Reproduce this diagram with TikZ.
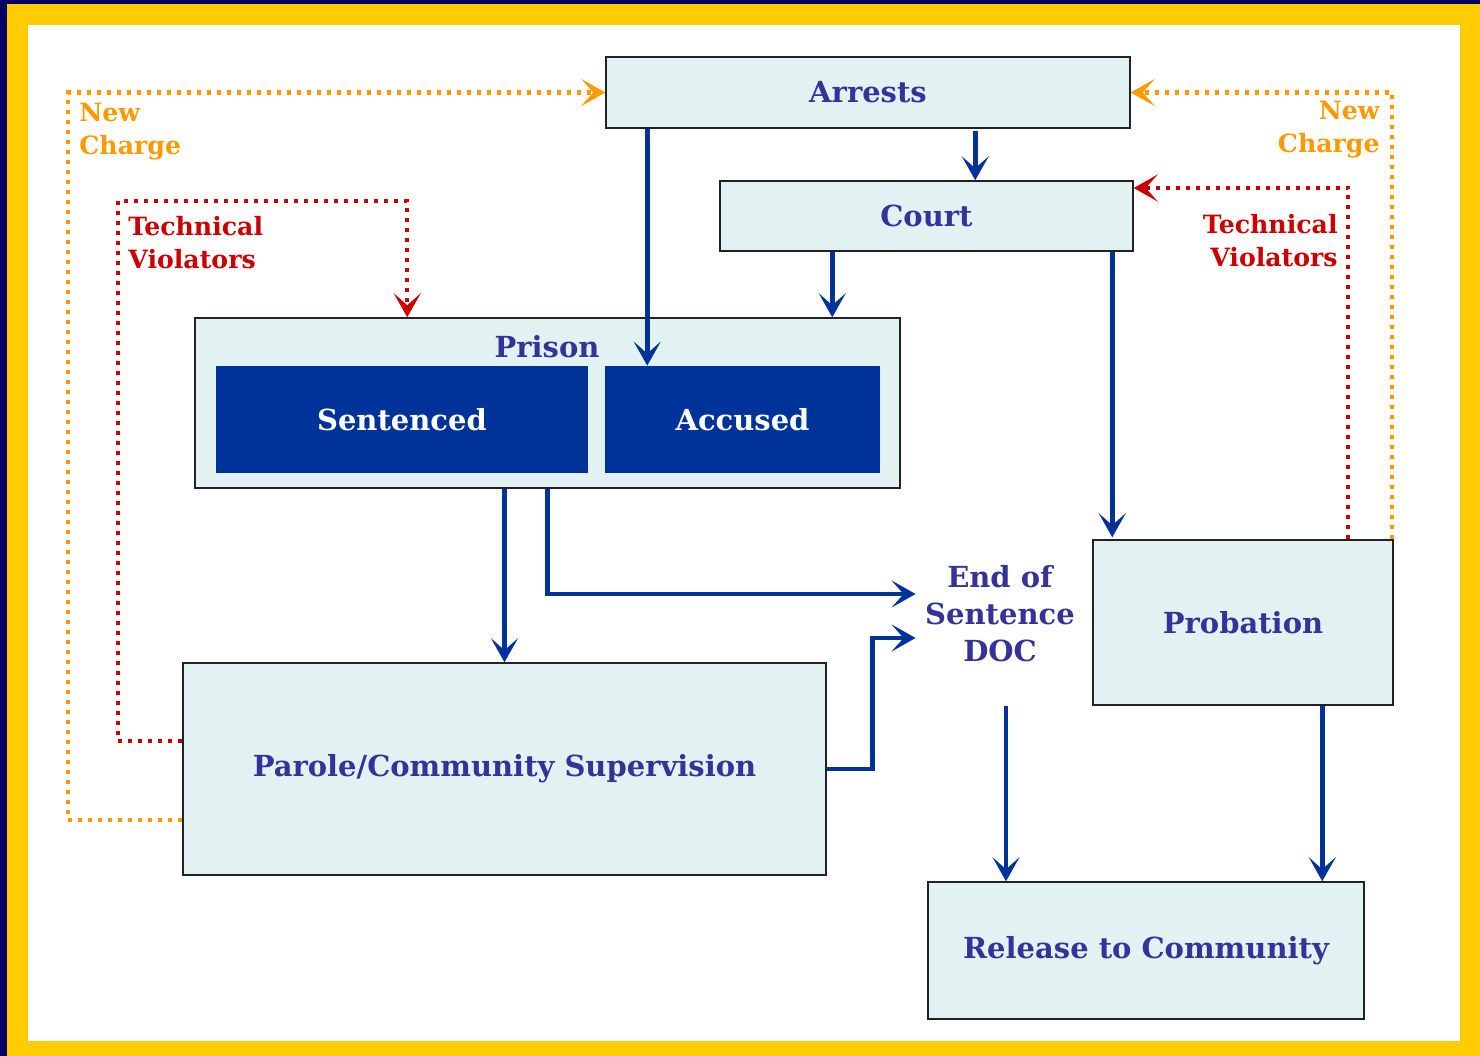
\documentclass[tikz,border=0pt]{standalone}
\usepackage{fontspec}
\setmainfont{DejaVu Serif}
\usetikzlibrary{arrows.meta,calc}

\definecolor{navyedge}{HTML}{000066}
\definecolor{framegold}{HTML}{FFCC00}
\definecolor{boxfill}{HTML}{E2F2F2}
\definecolor{boxline}{HTML}{222222}
\definecolor{inktext}{HTML}{333399}
\definecolor{flowblue}{HTML}{003399}
\definecolor{chargeorange}{HTML}{FF9900}
\definecolor{violred}{HTML}{CC0000}

\tikzset{
  mainfont/.style={font=\bfseries\fontsize{14.5}{18.5}\selectfont},
  tagfont/.style={font=\bfseries\fontsize{12.6}{16.5}\selectfont},
  box/.style={draw=boxline, line width=0.75pt, fill=boxfill, text=inktext,
              mainfont, inner sep=0pt},
  cell/.style={fill=flowblue, text=white, mainfont, inner sep=0pt},
  tip/.style={-{Stealth[length=12pt, width=13.5pt, inset=6pt]}},
  flow/.style={draw=flowblue, line width=2.3pt, tip},
  chargeline/.style={draw=chargeorange, line width=2.1pt, dash pattern=on 2pt off 3pt, tip},
  violline/.style={draw=violred, line width=2.1pt, dash pattern=on 2pt off 3pt, tip},
  chargetag/.style={text=chargeorange, tagfont, inner sep=0pt},
  violtag/.style={text=violred, tagfont, inner sep=0pt},
}

\begin{document}
\begin{tikzpicture}[x=0.5pt, y=-0.5pt]
% frame
\fill[navyedge] (0,0) rectangle (1480,1056);
\fill[framegold] (7,4) rectangle (1480,1056);
\fill[white] (28,25) rectangle (1460,1041);
\useasboundingbox (0,0) rectangle (1480,1056);

% boxes
\node[box, minimum width=262pt, minimum height=35.5pt] (arrests) at (868,92.5) {Arrests};
\node[box, minimum width=206.5pt, minimum height=35pt] (court) at (926.5,216) {Court};
\node[box, minimum width=352.5pt, minimum height=85pt] (prison) at (547.5,403) {};
\node[text=inktext, mainfont, inner sep=0pt] (prisonlbl) at (547,347) {Prison};
\node[cell, minimum width=186pt, minimum height=53.5pt] (sentenced) at (402,419.5) {Sentenced};
\node[cell, minimum width=137.5pt, minimum height=53.5pt] (accused) at (742.5,419.5) {Accused};
\node[box, minimum width=321.5pt, minimum height=106pt] (parole) at (504.5,769) {Parole/Community Supervision};
\node[box, minimum width=150pt, minimum height=82.5pt] (probation) at (1243,622.5) {Probation};
\node[box, minimum width=218pt, minimum height=68.5pt] (release) at (1146,950.5) {Release to Community};
\node[text=inktext, mainfont, align=center, inner sep=0pt,
      minimum width=84pt, minimum height=92pt] (endsent) at (1000,614) {End of\\Sentence\\DOC};

% tags
\node[chargetag, anchor=west, align=left] (ncl) at (79,131.5) {New\\Charge};
\node[chargetag, anchor=east, align=right] (ncr) at (1380,130) {New\\Charge};
\node[violtag, anchor=west, align=left] (tvl) at (128,242.5) {Technical\\Violators};
\node[violtag, anchor=east, align=right] (tvr) at (1338,240.5) {Technical\\Violators};

% main flow
\draw[flow] ([xshift=21pt]arrests.south west) -- ([xshift=21pt]arrests.south west |- accused.north);
\draw[flow] ([xshift=128pt,yshift=-1pt]court.north west |- arrests.south) -- ([xshift=128pt]court.north west);
\draw[flow] ([xshift=56.5pt]court.south west) -- ([xshift=56.5pt]court.south west |- prison.north);
\draw[flow] ([xshift=10pt]probation.north west |- court.south) -- ([xshift=10pt,yshift=1pt]probation.north west);
\draw[flow] (parole.north |- prison.south) -- (parole.north);
\draw[flow] (prison.south) |- ([yshift=10pt]endsent.west);
\draw[flow] (parole.east) -- ++(46,0) |- ([yshift=-12pt]endsent.west);
\draw[flow] ([xshift=3pt]endsent.south) -- ([xshift=3pt]endsent.south |- release.north);
\draw[flow] ([xshift=115pt]probation.south west) -- ([xshift=115pt]probation.south west |- release.north);

% feedback loops
\draw[chargeline] ([yshift=-25.5pt]parole.west) -- ++(-114,0) |- (arrests.west);
\draw[chargeline] ([xshift=-1pt]probation.north east) |- (arrests.east);
\draw[violline] ([yshift=14pt]parole.west) -- ++(-64,0) -- ++(0,-540) -| ([xshift=106.5pt]prison.north west);
\draw[violline] ([xshift=128pt]probation.north west) |- ([yshift=14pt]court.east);
\end{tikzpicture}
\end{document}
